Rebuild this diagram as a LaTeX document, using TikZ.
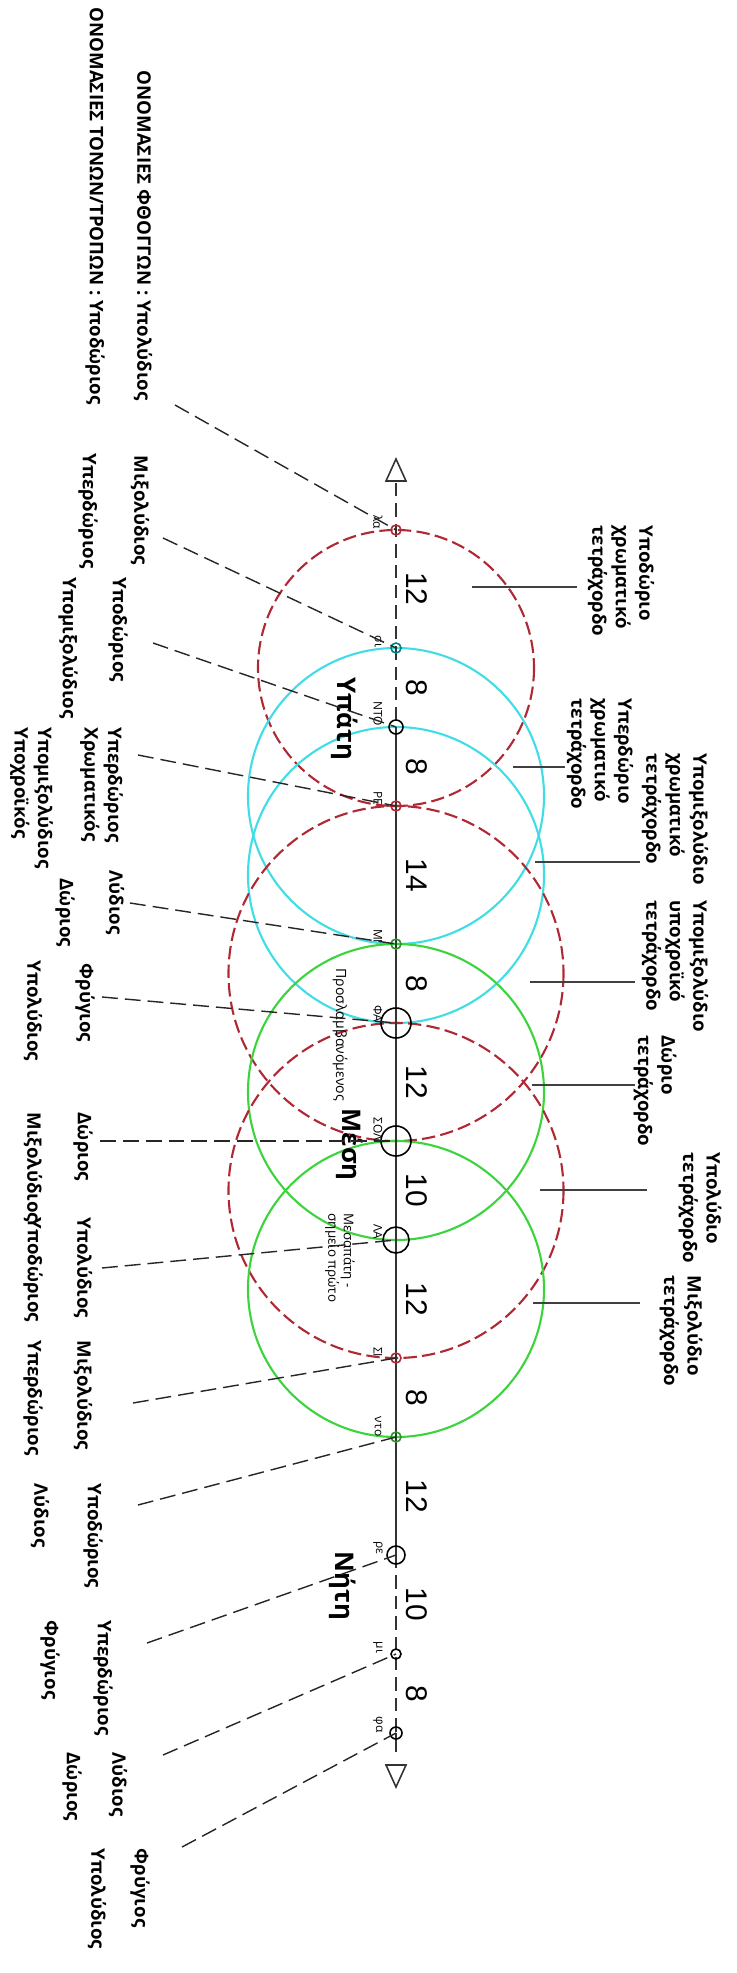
\documentclass[tikz,border=0pt]{standalone}
\usepackage{fontspec}
\setmainfont{Open Sans}
\newfontfamily\numfont{Liberation Sans}
\usetikzlibrary{arrows.meta,positioning,calc}
\definecolor{tred}{RGB}{176,40,52}
\definecolor{tcyan}{RGB}{64,222,228}
\definecolor{tgreen}{RGB}{60,212,60}

\begin{document}
\begin{tikzpicture}[x=0.01cm,y=-0.01cm,
  lab/.style={rotate=-90,inner sep=0pt,anchor=west,align=left,font=\fontsize{5.3}{6.7}\selectfont\bfseries},
  big/.style={rotate=-90,inner sep=0pt,anchor=west,font=\fontsize{7.3}{8}\selectfont\bfseries},
  tiny/.style={rotate=-90,inner sep=0pt,align=left,font=\fontsize{3.4}{4}\selectfont},
  num/.style={rotate=-90,inner sep=0pt,font=\numfont\fontsize{8.5}{9}\selectfont},
  redc/.style={tred,line width=0.6pt,dash pattern=on 3.8pt off 1.5pt},
  cyc/.style={tcyan,line width=0.6pt},
  grc/.style={tgreen,line width=0.6pt},
  lead/.style={black!85,line width=0.4pt,dash pattern=on 4.5pt off 2pt},
  rlead/.style={black!75,line width=0.4pt},
  axisline/.style={black!80,line width=0.45pt},
  axisdash/.style={axisline,dash pattern=on 3.8pt off 2pt}]
\useasboundingbox (0,0) rectangle (736,1973);

% points on the axis
\foreach \n/\y in {1/530,2/648,3/727,4/806,5/944,6/1023,7/1141,8/1240,9/1358,10/1437,11/1555,12/1654,13/1733}
  \coordinate (p\n) at (396,\y);
\coordinate (top) at (396,483);
\coordinate (bot) at (396,1752);

% tetrachord circles
\draw[redc] ($(p1)!.5!(p4)$) circle[radius=138];
\draw[cyc] ($(p2)!.5!(p5)$) circle[radius=148];
\draw[cyc] ($(p3)!.5!(p6)$) circle[radius=148];
\draw[redc] ($(p4)!.5!(p7)$) circle[radius=167.5];
\draw[grc] ($(p5)!.5!(p8)$) circle[radius=148];
\draw[redc] ($(p6)!.5!(p9)$) circle[radius=167.5];
\draw[grc] ($(p7)!.5!(p10)$) circle[radius=148];

% axis
\draw[axisline] (396,459) -- (386,481) -- (406,481) -- cycle;
\draw[axisline] (386,1765) -- (406,1765) -- (396,1787) -- cycle;
\draw[axisdash] (top) -- (p3);
\draw[axisline] (p3) -- (p11);
\draw[axisdash] (p11) -- (p13);
\draw[axisline] (p13) -- (bot);

% point marks
\foreach \n/\r/\c in {1/5/tred,2/5/teal,3/7/black,4/5/tred,5/5/tgreen!70!black,6/15/black,7/15/black,
  8/13/black,9/5/tred,10/5/tgreen!70!black,11/9/black,12/5/black,13/6/black}
  \draw[\c,line width=0.45pt] (p\n) circle[radius=\r];

% intervals
\foreach \a/\b/\m in {1/2/12,2/3/8,3/4/8,4/5/14,5/6/8,6/7/12,7/8/10,8/9/12,9/10/8,10/11/12,11/12/10,12/13/8}
  \node[num] (n\a) at ($(p\a)!.5!(p\b)+(21,0)$) {\m};

% note names
\foreach \n/\t in {1/λα,2/σι,3/ΝΤΟ,4/ΡΕ,5/ΜΙ,6/ΦΑ,7/ΣΟΛ,8/ΛΑ,9/ΣΙ,10/ντο,11/ρε,12/μι,13/φα}
  \node[tiny,anchor=east] (q\n) at ($(p\n)+(-18,0)$) {\t};

\node[big] (ypati) at (345,677) {Υπάτη};
\node[big] (mesi) at (350,1108) {Μέση};
\node[big] (niti) at (343,1551) {Νήτη};
\node[tiny,anchor=west,font=\fontsize{4}{4.6}\selectfont] (pros) at (340,968) {Προσλαμβανόμενος};
\node[tiny,anchor=west,font=\fontsize{3.8}{4.4}\selectfont] (mesa) at (340,1213) {Μεσαπάτη -\\σημείο πρώτο};

% tetrachord names (right)
\node[lab] (r1) at (621,525) {Υποδώριο\\χρωματικό\\τετράχορδο};
\node[lab] (r2) at (600,698) {Υπερδώριο\\χρωματικό\\τετράχορδο};
\node[lab] (r3) at (675,753) {Υπομιξολύδιο\\χρωματικό\\τετράχορδο};
\node[lab] (r4) at (675,900) {Υπομιξολύδιο\\υποχροϊκό\\τετράχορδο};
\node[lab] (r5) at (655,1035) {Δώριο\\τετράχορδο};
\node[lab] (r6) at (700,1152) {Υπολύδιο\\τετράχορδο};
\node[lab] (r7) at (681,1275) {Μιξολύδιο\\τετράχορδο};
\foreach \k/\y/\xa/\xb in {1/587/472/577,2/767/513/565,3/862/535/640,4/982/530/635,5/1085/532/635,6/1190/540/647,7/1303/533/640}{
  \coordinate (a\k) at (\xa,\y); \coordinate (b\k) at (\xb,\y);
  \draw[rlead] (a\k) -- (b\k);
}

% mode names (left)
\node[lab] (t1) at (143,70) {ΟΝΟΜΑΣΙΕΣ ΦΘΟΓΓΩΝ : Υπολύδιος};
\node[lab] (t2) at (95,7) {ΟΝΟΜΑΣΙΕΣ ΤΟΝΩΝ/ΤΡΟΠΩΝ : Υποδώριος};
\node[lab] (m3) at (140,455) {Μιξολύδιος};
\node[lab] (u3) at (88,453) {Υπερδώριος};
\node[lab] (m4) at (118,577) {Υποδώριος};
\node[lab] (u4) at (68,577) {Υπομιξολύδιος};
\node[lab] (m5) at (101.5,727) {Υπερδώριος\\Χρωματικός};
\node[lab] (u5) at (31.5,727) {Υπομιξολύδιος\\Υποχροϊκός};
\node[lab] (m6) at (115,870) {Λύδιος};
\node[lab] (u6) at (65,878) {Δώριος};
\node[lab] (m7) at (85,963) {Φρύγιος};
\node[lab] (u7) at (33,960) {Υπολύδιος};
\node[lab] (m8) at (83,1112) {Δώριος};
\node[lab] (u8) at (33,1112) {Μιξολύδιος};
\node[lab] (m9) at (83,1217) {Υπολύδιος};
\node[lab] (u9) at (33,1217) {Υποδώριος};
\node[lab] (m10) at (83,1340) {Μιξολύδιος};
\node[lab] (u10) at (33,1340) {Υπερδώριος};
\node[lab] (m11) at (93,1483) {Υποδώριος};
\node[lab] (u11) at (40,1483) {Λύδιος};
\node[lab] (m12) at (103,1620) {Υπερδώριος};
\node[lab] (u12) at (50,1620) {Φρύγιος};
\node[lab] (m13) at (118,1752) {Λύδιος};
\node[lab] (u13) at (72,1752) {Δώριος};
\node[lab] (m14) at (140,1848) {Φρύγιος};
\node[lab] (u14) at (97,1848) {Υπολύδιος};

% dashed leaders to the notes
\foreach \n/\x/\y in {1/175/405,2/163/538,3/153/643,4/138/755,5/130/903,6/102/997,7/100/1141,
  8/102/1268,9/133/1403,10/138/1505,11/147/1643,12/163/1755,13/182/1847}{
  \coordinate (e\n) at (\x,\y);
  \draw[lead] (e\n) -- (p\n);
}
\end{tikzpicture}
\end{document}
